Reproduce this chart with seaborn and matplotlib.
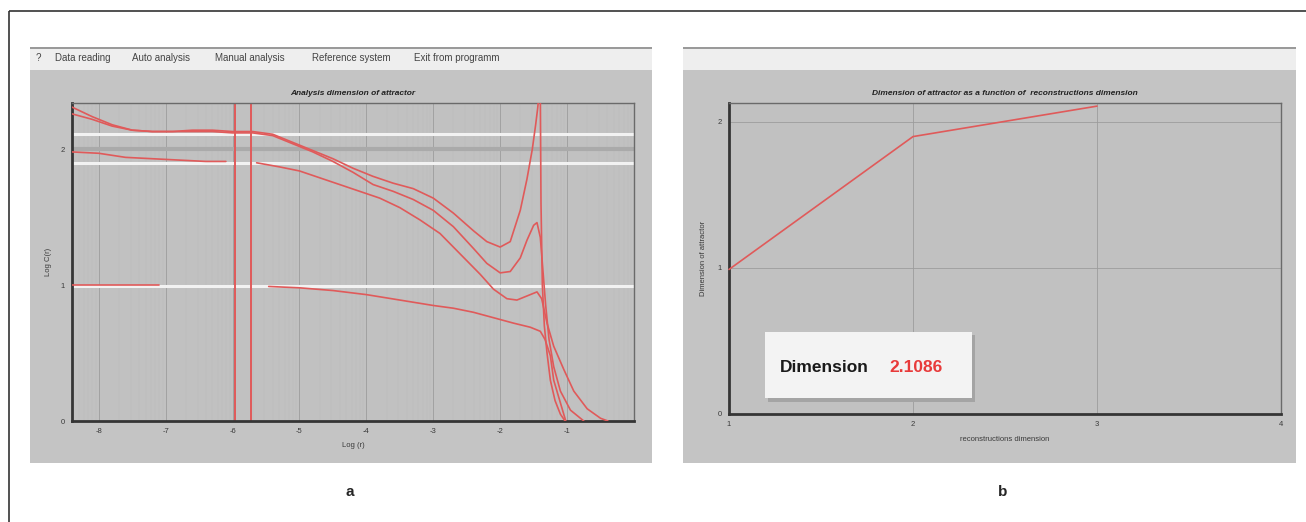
import numpy as np
import pandas as pd
import seaborn as sns
import matplotlib.pyplot as plt
from matplotlib.patches import Rectangle

# ---------------------------------------------------------------------------
# data

# panel a: Log C(r) against Log (r), one trace per embedding dimension
# (traces with a break are split in segments)
trace_1_x = [-8.40, -8.10, -7.80, -7.50, -7.20, -6.90, -6.60, -6.30, -6.00, -5.70, -5.40,
             -5.10, -4.80, -4.50, -4.20, -3.90, -3.60, -3.30, -3.00, -2.70, -2.40, -2.20,
             -2.00, -1.85, -1.70, -1.60, -1.52, -1.47, -1.44, -1.42, -1.40, -1.39, -1.37,
             -1.34, -1.30, -1.25, -1.18, -1.10, -1.03]
trace_1_y = [2.31, 2.24, 2.18, 2.14, 2.13, 2.13, 2.14, 2.14, 2.13, 2.13, 2.11,
             2.05, 1.99, 1.93, 1.86, 1.80, 1.75, 1.71, 1.64, 1.53, 1.40, 1.32,
             1.28, 1.32, 1.55, 1.78, 2.00, 2.18, 2.30, 2.40, 2.40, 1.60, 1.00,
             0.70, 0.50, 0.30, 0.15, 0.05, 0.00]

trace_2_x = [-8.40, -8.10, -7.80, -7.50, -7.20, -6.90, -6.60, -6.30, -6.00, -5.70, -5.40,
             -5.10, -4.80, -4.50, -4.20, -3.90, -3.60, -3.30, -3.00, -2.70, -2.40, -2.20,
             -2.00, -1.85, -1.70, -1.60, -1.50, -1.45, -1.40, -1.36, -1.32, -1.27, -1.20,
             -1.10, -0.95, -0.75]
trace_2_y = [2.26, 2.22, 2.17, 2.14, 2.13, 2.13, 2.13, 2.13, 2.12, 2.12, 2.10,
             2.04, 1.98, 1.91, 1.83, 1.74, 1.69, 1.63, 1.55, 1.43, 1.27, 1.16,
             1.09, 1.10, 1.20, 1.33, 1.44, 1.46, 1.35, 1.10, 0.85, 0.60, 0.40,
             0.22, 0.08, 0.00]

trace_3a_x = [-8.40, -8.00, -7.60, -7.20, -6.80, -6.40, -6.10]
trace_3a_y = [1.98, 1.97, 1.94, 1.93, 1.92, 1.91, 1.91]
trace_3b_x = [-5.64, -5.30, -5.00, -4.70, -4.40, -4.10, -3.80, -3.50, -3.20, -2.90, -2.60,
              -2.30, -2.10, -1.90, -1.75, -1.60, -1.45, -1.38, -1.30, -1.20, -1.05, -0.90,
              -0.70, -0.50, -0.39]
trace_3b_y = [1.90, 1.87, 1.84, 1.79, 1.74, 1.69, 1.64, 1.57, 1.48, 1.38, 1.23,
              1.08, 0.97, 0.90, 0.89, 0.92, 0.95, 0.90, 0.72, 0.55, 0.38, 0.22,
              0.09, 0.02, 0.00]

trace_4a_x = [-8.40, -7.10]
trace_4a_y = [1.00, 1.00]
trace_4b_x = [-5.46, -5.00, -4.50, -4.00, -3.50, -3.00, -2.70, -2.40, -2.10, -1.80, -1.55,
              -1.40, -1.33, -1.25, -1.20, -1.08, -1.02]
trace_4b_y = [0.99, 0.98, 0.96, 0.93, 0.89, 0.85, 0.83, 0.80, 0.76, 0.72, 0.69,
              0.66, 0.60, 0.48, 0.30, 0.10, 0.00]

# scaling region cursors (vertical red lines)
cursor_x = [-5.97, -5.73]

# panel b: attractor dimension against reconstruction dimension
recon_dims = [1, 2, 3]
attractor_dims = [0.99, 1.90, 2.1086]

menu_items = ['?', 'Data reading', 'Auto analysis', 'Manual analysis',
              'Reference system', 'Exit from programm']
x_ticks_a = [-8, -7, -6, -5, -4, -3, -2, -1]
y_ticks_a = [0, 1, 2]
x_ticks_b = [1, 2, 3, 4]
y_ticks_b = [0, 1, 2]

# ---------------------------------------------------------------------------
# style

sns.set_style('white')
plt.rcParams['font.family'] = ['Liberation Sans', 'DejaVu Sans']
plt.rcParams['axes.unicode_minus'] = False

W, H = 1306, 522
RED = '#e05a5a'
GRAY_BG = '#c4c4c4'
PLOT_BG = '#c1c1c1'
TXT = '#3a3a3a'


def px_box(x0, y0, x1, y1):
    """pixel box (top-left origin) -> figure fraction rect"""
    return [x0 / W, 1 - y1 / H, (x1 - x0) / W, (y1 - y0) / H]


def style_axes(ax):
    ax.set_facecolor(PLOT_BG)
    for side in ['left', 'bottom']:
        ax.spines[side].set_linewidth(2.0)
        ax.spines[side].set_color('#353535')
    for side in ['top', 'right']:
        ax.spines[side].set_linewidth(1.0)
        ax.spines[side].set_color('#6a6a6a')
    ax.tick_params(labelsize=5.5, length=2, width=0.6, colors=TXT, pad=3)
    ax.grid(True, which='major', color='#9c9c9c', linewidth=0.6)


fig = plt.figure(figsize=(W / 100, H / 100), dpi=100)

# background layer in pixel coordinates: outer frame and the two screenshots
bg = fig.add_axes([0, 0, 1, 1])
bg.set_xlim(0, W)
bg.set_ylim(H, 0)
bg.axis('off')
bg.add_patch(Rectangle((9, 11), 1400, 600, fill=False, edgecolor='#333333', linewidth=1.2))
for x0, x1 in [(30, 652), (683, 1296)]:
    bg.add_patch(Rectangle((x0, 48), x1 - x0, 22, facecolor='#eeeeee', edgecolor='none'))
    bg.add_patch(Rectangle((x0, 47), x1 - x0, 1.5, facecolor='#9a9a9a', edgecolor='none'))
    bg.add_patch(Rectangle((x0, 70), x1 - x0, 393, facecolor=GRAY_BG, edgecolor='none'))

menu_x = [36, 55, 132, 215, 312, 414]
for label, mx in zip(menu_items, menu_x):
    bg.text(mx, 58, label, fontsize=7, color='#444444', va='center', ha='left')

bg.text(350, 492, 'a', fontsize=11, fontweight='bold', ha='center', va='center')
bg.text(1003, 492, 'b', fontsize=11, fontweight='bold', ha='center', va='center')

# ---------------------------------------------------------------------------
# panel a

segments = [('1', trace_1_x, trace_1_y), ('2', trace_2_x, trace_2_y),
            ('3a', trace_3a_x, trace_3a_y), ('3b', trace_3b_x, trace_3b_y),
            ('4a', trace_4a_x, trace_4a_y), ('4b', trace_4b_x, trace_4b_y)]
df_a = pd.concat([pd.DataFrame({'log_r': xs, 'log_c': ys, 'segment': name})
                  for name, xs, ys in segments], ignore_index=True)

ax_a = fig.add_axes(px_box(72, 103, 634, 421))
style_axes(ax_a)
ax_a.set_xlim(-8.4, 0.0)
ax_a.set_ylim(0, 2.34)
ax_a.set_xticks(x_ticks_a)
ax_a.set_yticks(y_ticks_a)
# faint sub-decade grid lines
minor_x = [k + np.log10(m) for k in range(-9, 0) for m in range(2, 10)]
ax_a.set_xticks([v for v in minor_x if -8.4 < v < 0], minor=True)
ax_a.tick_params(which='minor', length=0)
ax_a.grid(True, which='minor', axis='x', color='#bababa', linewidth=0.35)
ax_a.axhline(2.0, color='#aaaaaa', linewidth=3, zorder=1)
for d in attractor_dims:
    ax_a.axhline(d, color='#f2f2f2', linewidth=2.2, zorder=1.5)
for cx in cursor_x:
    ax_a.axvline(cx, color=RED, linewidth=1.4, zorder=2)
sns.lineplot(data=df_a, x='log_r', y='log_c', units='segment', estimator=None,
             sort=False, color=RED, linewidth=1.2, legend=False, ax=ax_a, zorder=3)
ax_a.set_xlabel('Log (r)', fontsize=5.5, color=TXT, labelpad=5)
ax_a.set_ylabel('Log C(r)', fontsize=5.5, color=TXT, labelpad=6)
ax_a.set_title('Analysis dimension of attractor', fontsize=6, fontweight='bold',
               fontstyle='italic', color='#222222', pad=6)

# ---------------------------------------------------------------------------
# panel b

df_b = pd.DataFrame({'recon': recon_dims, 'dim': attractor_dims})

ax_b = fig.add_axes(px_box(729, 103, 1281, 414))
style_axes(ax_b)
ax_b.set_xlim(1, 4)
ax_b.set_ylim(0, 2.13)
ax_b.set_xticks(x_ticks_b)
ax_b.set_yticks(y_ticks_b)
sns.lineplot(data=df_b, x='recon', y='dim', color=RED, linewidth=1.2, ax=ax_b,
             zorder=3, clip_on=False)
ax_b.set_xlabel('reconstructions dimension', fontsize=5.5, color=TXT, labelpad=6)
ax_b.set_ylabel('Dimension of attractor', fontsize=5.5, color=TXT, labelpad=8)
ax_b.set_title('Dimension of attractor as a function of  reconstructions dimension',
               fontsize=6, fontweight='bold', fontstyle='italic', color='#222222', pad=6)

# result box
ax_b.add_patch(Rectangle((0.070, 0.040), 0.375, 0.215, transform=ax_b.transAxes,
                         facecolor='#a4a4a4', edgecolor='none', zorder=4))
ax_b.add_patch(Rectangle((0.065, 0.051), 0.375, 0.213, transform=ax_b.transAxes,
                         facecolor='#f3f3f3', edgecolor='none', zorder=5))
ax_b.text(0.093, 0.15, 'Dimension', transform=ax_b.transAxes, fontsize=12.5,
          fontweight='bold', color='#1a1a1a', va='center', ha='left', zorder=6)
ax_b.text(0.29, 0.15, f'{attractor_dims[-1]:.4f}', transform=ax_b.transAxes,
          fontsize=12.5, fontweight='bold', color='#e83a3a', va='center', ha='left', zorder=6)

fig.savefig('out.png', dpi=100)
